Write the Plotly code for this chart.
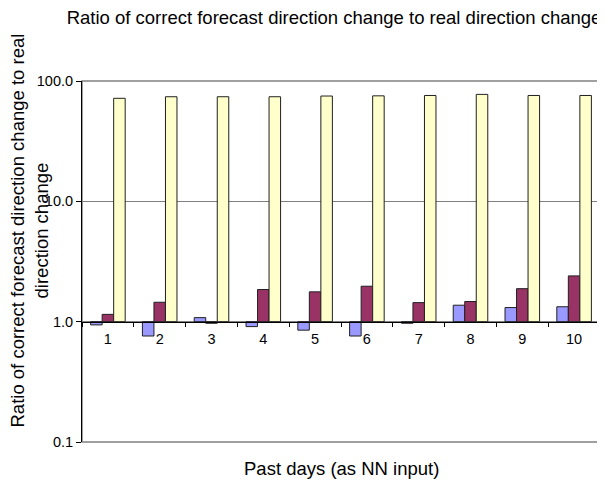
import plotly.graph_objects as go

categories = ["1", "2", "3", "4", "5", "6", "7", "8", "9", "10"]
series_blue = [0.94, 0.76, 1.08, 0.91, 0.85, 0.76, 0.97, 1.37, 1.31, 1.33]
series_maroon = [1.15, 1.45, 0.97, 1.85, 1.77, 1.97, 1.44, 1.47, 1.88, 2.4]
series_yellow = [71.8, 74.0, 74.0, 74.0, 75.0, 75.3, 75.8, 77.4, 75.8, 75.8]
y_tickvals = [0.1, 1, 10, 100]
y_ticktext = ["0.1", "1.0", "10.0", "100.0"]
BASE = 1.0

FONT = "Arial, Liberation Sans, sans-serif"

# The page body has an 8px default margin; the figure is sized to fit the window.
W, H = 597, 473

fig = go.Figure()
for vals, color in [(series_blue, "#9999FF"), (series_maroon, "#993366"), (series_yellow, "#FFFFCC")]:
    fig.add_trace(go.Bar(
        x=categories,
        y=[v - BASE for v in vals],
        base=[BASE] * len(vals),
        marker=dict(color=color, line=dict(color="#202020", width=1)),
        customdata=vals,
        hovertemplate="%{customdata}<extra></extra>",
    ))

fig.update_layout(
    width=W, height=H,
    margin=dict(l=74, r=5, t=73, b=39),
    paper_bgcolor="white", plot_bgcolor="white",
    showlegend=False,
    barmode="group", bargap=0.333, bargroupgap=0,
    font=dict(family=FONT, size=14.5, color="black"),
    title=dict(text="Ratio of correct forecast direction change to real direction change",
               x=326 / W, xanchor="center", y=1 - 10 / H, yanchor="middle",
               font=dict(family=FONT, size=18.5, color="black")),
    xaxis=dict(type="category", anchor="free", position=1 / 3,
               showline=True, linecolor="black", linewidth=1,
               ticks="outside", tickson="boundaries", ticklen=4, tickcolor="black",
               ticklabelstandoff=4,
               showgrid=False, zeroline=False,
               tickfont=dict(family=FONT, size=14.5, color="black")),
    yaxis=dict(type="log", range=[-1, 2],
               tickvals=y_tickvals, ticktext=y_ticktext,
               showline=True, linecolor="black", linewidth=1,
               ticks="outside", ticklen=5, tickcolor="black",
               showgrid=True, gridcolor="#808080", gridwidth=1, zeroline=False,
               tickfont=dict(family=FONT, size=14.5, color="black")),
    shapes=[dict(type="rect", xref="paper", yref="paper", x0=0, x1=1, y0=0, y1=1,
                 line=dict(color="#808080", width=1.5), layer="below")],
    annotations=[
        dict(text="Past days (as NN input)", xref="paper", yref="paper",
             x=0.5, y=0, xanchor="center", yanchor="middle", yshift=-26,
             showarrow=False, font=dict(family=FONT, size=18.5, color="black")),
        dict(text="Ratio of correct forecast direction change to real<br>direction change",
             xref="paper", yref="paper", x=0, y=(434 - 223) / 361,
             xanchor="right", yanchor="middle", xshift=-29, textangle=-90,
             showarrow=False, font=dict(family=FONT, size=18.5, color="black")),
    ],
)

fig.write_html("out.html")
